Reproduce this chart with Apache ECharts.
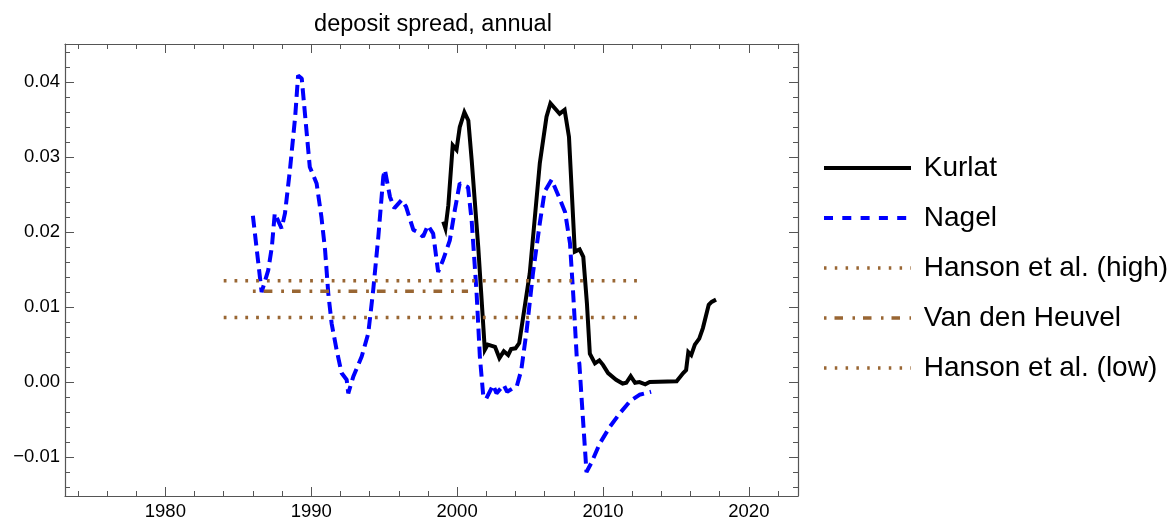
<!DOCTYPE html>
<html>
<head>
<meta charset="utf-8">
<script src="https://cdn.jsdelivr.net/npm/echarts@6/dist/echarts.min.js"></script>
<style>
html,body{margin:0;padding:0;background:#fff;}
#chart{width:1174px;height:521px;}
</style>
</head>
<body>
<div id="chart"></div>
<script>
// ---- data ----
const KURLAT = [
  [1999.05,0.0214],[1999.2,0.0205],[1999.4,0.0236],[1999.7,0.0316],[1999.96,0.0310],
  [2000.18,0.0340],[2000.5,0.0360],[2000.77,0.0349],[2001.0,0.0296],[2001.45,0.0180],
  [2001.9,0.0043],[2002.1,0.0050],[2002.6,0.0047],[2002.9,0.0032],[2003.2,0.0041],
  [2003.5,0.0036],[2003.7,0.0044],[2004.0,0.0045],[2004.26,0.0052],[2004.98,0.0145],
  [2005.67,0.0292],[2006.13,0.0354],[2006.4,0.0372],[2007.03,0.0358],[2007.37,0.0363],
  [2007.67,0.0327],[2008.07,0.0174],[2008.4,0.0177],[2008.65,0.0167],[2008.9,0.0105],
  [2009.1,0.0038],[2009.45,0.0025],[2009.75,0.0029],[2010.0,0.0023],[2010.35,0.0012],
  [2010.9,0.0003],[2011.35,-0.0002],[2011.6,-0.0001],[2011.9,0.0008],[2012.2,-0.0001],
  [2012.5,0.0000],[2012.9,-0.0003],[2013.2,0.0000],[2015.05,0.0001],[2015.5,0.0012],
  [2015.7,0.0016],[2015.85,0.0040],[2016.05,0.0036],[2016.3,0.0050],[2016.6,0.0058],
  [2016.85,0.0072],[2017.25,0.0103],[2017.45,0.0107],[2017.75,0.0110]
];
const NAGEL = [
  [1986.0,0.0222],[1986.6,0.0120],[1987.05,0.0149],[1987.3,0.0180],[1987.5,0.0225],
  [1987.97,0.0205],[1988.2,0.0225],[1988.54,0.0283],[1988.9,0.0354],[1989.1,0.0409],
  [1989.35,0.0405],[1989.57,0.0358],[1989.9,0.0287],[1990.37,0.0265],[1990.7,0.0220],
  [1990.95,0.0176],[1991.17,0.0118],[1991.4,0.0078],[1991.74,0.0043],[1992.08,0.0012],
  [1992.43,0.0003],[1992.54,-0.0015],[1992.88,0.0007],[1993.46,0.0034],[1993.91,0.0065],
  [1994.25,0.0123],[1994.6,0.0194],[1994.94,0.0274],[1995.05,0.0283],[1995.4,0.0247],
  [1995.7,0.0232],[1996.2,0.0243],[1996.5,0.0234],[1997.0,0.0203],[1997.33,0.0200],
  [1997.67,0.0194],[1998.0,0.0209],[1998.36,0.0198],[1998.7,0.0147],[1999.04,0.0163],
  [1999.5,0.0189],[1999.84,0.0229],[2000.18,0.0265],[2000.75,0.0260],[2001.0,0.0215],
  [2001.33,0.0121],[2001.56,0.0034],[2001.8,-0.0020],[2002.0,-0.0022],[2002.47,-0.0004],
  [2002.7,-0.0015],[2003.2,-0.0004],[2003.43,-0.0013],[2004.1,-0.0005],[2004.4,0.0016],
  [2004.77,0.0069],[2005.2,0.0145],[2005.67,0.0212],[2006.0,0.0254],[2006.48,0.0270],
  [2006.94,0.0249],[2007.4,0.0227],[2007.74,0.0185],[2007.97,0.0114],[2008.2,0.0034],
  [2008.38,0.0025],[2008.55,-0.0026],[2008.87,-0.0120],[2009.2,-0.0108],[2009.78,-0.0082],
  [2010.46,-0.0060],[2011.14,-0.0042],[2011.83,-0.0026],[2012.5,-0.0017],[2013.3,-0.0013]
];
const HANSON_HIGH = [[1984.0,0.0135],[2012.75,0.0135]];
const VAN_DEN_HEUVEL = [[1986.0,0.0121],[2000.75,0.0121]];
const HANSON_LOW = [[1984.0,0.0086],[2012.75,0.0086]];

const X_MAJOR = [1980,1990,2000,2010,2020];
const X_MINOR = [1974,1976,1978,1982,1984,1986,1988,1992,1994,1996,1998,2002,2004,2006,2008,2012,2014,2016,2018,2022];
const Y_MAJOR = [-0.01,0.00,0.01,0.02,0.03,0.04];
const Y_MINOR = [-0.014,-0.012,-0.008,-0.006,-0.004,-0.002,0.002,0.004,0.006,0.008,0.012,0.014,0.016,0.018,0.022,0.024,0.026,0.028,0.032,0.034,0.036,0.038,0.042,0.044];

const NAMES = ['Kurlat','Nagel','Hanson et al. (high)','Van den Heuvel','Hanson et al. (low)'];

// ---- styling ----
const FONT = "'Liberation Sans', Arial, Helvetica, sans-serif";
const FRAME = '#555555';
const BROWN = '#996633';
const XMIN = 1973.12, XMAX = 2023.37;
const YMIN = -0.0152, YMAX = 0.0451;

function xAx(pos, vals, len, withLine, withLabel){
  return {
    type:'value', position:pos, min:XMIN, max:XMAX,
    axisLine:{show:withLine, onZero:false, lineStyle:{color:FRAME,width:1.2}},
    axisTick:{show:true, inside:true, length:len, customValues:vals, lineStyle:{color:FRAME,width:1}},
    axisLabel:{show:withLabel, customValues:vals, fontSize:18.5, color:'#000', fontFamily:FONT, margin:6,
      formatter:v=>String(Math.round(v))},
    splitLine:{show:false}
  };
}
function yAx(pos, vals, len, withLine, withLabel){
  return {
    type:'value', position:pos, min:YMIN, max:YMAX,
    axisLine:{show:withLine, onZero:false, lineStyle:{color:FRAME,width:1.2}},
    axisTick:{show:true, inside:true, length:len, customValues:vals, lineStyle:{color:FRAME,width:1}},
    axisLabel:{show:withLabel, customValues:vals, fontSize:18.5, color:'#000', fontFamily:FONT, margin:5,
      formatter:v=>{const r=Math.round(v*100)/100; return (r<0?'\u2212':'')+Math.abs(r).toFixed(2);}},
    splitLine:{show:false}
  };
}

const chart = echarts.init(document.getElementById('chart'), null, {renderer:'canvas'});
const option = {
  animation:false,
  backgroundColor:'#fff',
  title:{text:'deposit spread, annual', left:428, top:8, textAlign:'center',
    textStyle:{fontSize:23.5, fontWeight:'normal', color:'#000', fontFamily:FONT}},
  grid:{left:65, top:44, width:733, height:452, containLabel:false},
  xAxis:[
    xAx('bottom', X_MAJOR, 9, true, true),
    xAx('bottom', X_MINOR, 5, false, false),
    xAx('top', X_MAJOR, 9, true, false),
    xAx('top', X_MINOR, 5, false, false)
  ],
  yAxis:[
    yAx('left', Y_MAJOR, 9, true, true),
    yAx('left', Y_MINOR, 5, false, false),
    yAx('right', Y_MAJOR, 9, true, false),
    yAx('right', Y_MINOR, 5, false, false)
  ],
  legend:{
    orient:'vertical', left:822, top:154, padding:0,
    itemWidth:87, itemHeight:14, itemGap:22,
    itemStyle:{opacity:0},
    formatter:name=>' '+name,
    textStyle:{fontSize:28, color:'#000', fontFamily:FONT},
    data:[
      {name:NAMES[0], itemStyle:{opacity:0}, lineStyle:{color:'#000', width:4, type:'solid'}},
      {name:NAMES[1], itemStyle:{opacity:0}, lineStyle:{color:'#0000ff', width:4, type:[9,9.3]}},
      {name:NAMES[2], itemStyle:{opacity:0}, lineStyle:{color:BROWN, width:3.5, type:[2.5,8.3]}},
      {name:NAMES[3], itemStyle:{opacity:0}, lineStyle:{color:BROWN, width:3.5, type:[2.5,8,8.5,9.5]}},
      {name:NAMES[4], itemStyle:{opacity:0}, lineStyle:{color:BROWN, width:3.5, type:[2.5,8.3]}}
    ]
  },
  series:[
    {name:NAMES[0], type:'line', data:KURLAT, symbol:'none', showSymbol:false,
      lineStyle:{color:'#000', width:4, join:'miter'}, itemStyle:{color:'#000'}},
    {name:NAMES[1], type:'line', data:NAGEL, symbol:'none', showSymbol:false,
      lineStyle:{color:'#0000ff', width:4, type:[12,6]}, itemStyle:{color:'#0000ff'}},
    {name:NAMES[2], type:'line', data:HANSON_HIGH, symbol:'none', showSymbol:false,
      lineStyle:{color:BROWN, width:3.5, type:[2.8,8]}, itemStyle:{color:BROWN}},
    {name:NAMES[3], type:'line', data:VAN_DEN_HEUVEL, symbol:'none', showSymbol:false,
      lineStyle:{color:BROWN, width:3.5, type:[2.8,8,8.7,8.8]}, itemStyle:{color:BROWN}},
    {name:NAMES[4], type:'line', data:HANSON_LOW, symbol:'none', showSymbol:false,
      lineStyle:{color:BROWN, width:3.5, type:[2.8,8]}, itemStyle:{color:BROWN}}
  ]
};
chart.setOption(option);
</script>
</body>
</html>
